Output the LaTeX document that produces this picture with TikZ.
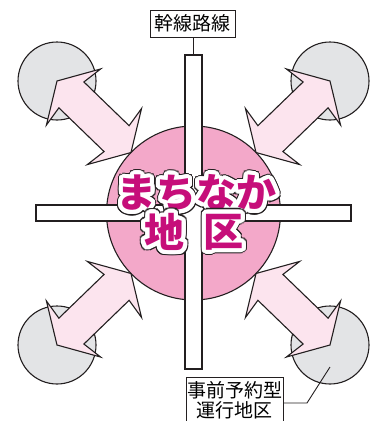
\documentclass[tikz,border=0pt]{standalone}
\usepackage{fontspec}
\usetikzlibrary{calc}
\newfontfamily\jp{Noto Sans CJK JP}
\definecolor{lineC}{RGB}{35,31,32}
\definecolor{grayC}{RGB}{227,228,230}
\definecolor{arrowC}{RGB}{252,228,238}
\definecolor{pinkC}{RGB}{243,168,201}
\definecolor{magC}{RGB}{198,14,122}
\newcommand\blockarrow[2]{%
  \begin{scope}[shift={(#2.center)}, rotate=#1]
    \draw[arrowshape] (0,0) -- (23,39) -- (20,18) -- (82.9,18) -- (79.9,39) -- (102.9,0)
      -- (79.9,-39) -- (82.9,-18) -- (20,-18) -- (23,-39) -- cycle;
  \end{scope}}
\newcommand\halotext[3]{%
  \foreach \a in {0,15,...,345}{\node[bigtxt, text=lineC] (#1d\a) at ($(#2)+(\a:5.3)$) {#3};}
  \foreach \a in {0,15,...,345}{\node[bigtxt, text=white] (#1w\a) at ($(#2)+(\a:4.1)$) {#3};}
  \node[bigtxt, text=magC] (#1) at (#2) {#3};}
\begin{document}
\begin{tikzpicture}[x=1pt,y=-1pt,
  outl/.style={draw=lineC, line width=1.1pt},
  graycirc/.style={outl, fill=grayC, circle, minimum size=78pt, inner sep=0pt},
  arrowshape/.style={outl, fill=arrowC, line join=miter, miter limit=10},
  road/.style={outl, fill=white, rectangle, inner sep=0pt},
  lbl/.style={draw=lineC, line width=0.9pt, fill=white, inner sep=0pt,
    font=\jp\fontsize{19}{20}\selectfont, align=center},
  leader/.style={draw=lineC, line width=0.9pt},
  bigtxt/.style={inner sep=0pt, font=\jp\bfseries\fontsize{40}{40}\selectfont}]
\useasboundingbox (0,0) rectangle (374,421);
% district circles
\node[graycirc] (gTL) at (57,81) {};
\node[graycirc] (gTR) at (330,81) {};
\node[graycirc] (gBL) at (57,345) {};
\node[graycirc] (gBR) at (330,345) {};
% arrows
\blockarrow{-44.04}{gTL}
\blockarrow{224.04}{gTR}
\blockarrow{44.04}{gBL}
\blockarrow{135.96}{gBR}
% town centre
\node[outl, fill=pinkC, circle, minimum size=174pt, inner sep=0pt] (town) at (193.5,213) {};
% trunk roads
\node[road, minimum width=17pt, minimum height=314pt] (vroad) at (193.5,212) {};
\node[road, minimum width=315pt, minimum height=16pt] (hroad) at (193.5,213) {};
\fill[white] (185.6,204) rectangle (201.4,222);
% main title
\coordinate (t1) at (196.5,193);
\coordinate (t2) at (164.5,232);
\coordinate (t3) at (223.5,232);
\halotext{ta}{t1}{まちなか}
\halotext{tb}{t2}{地}
\halotext{tc}{t3}{区}
% labels
\node[lbl, minimum width=85pt, minimum height=27pt] (trunk) at (192.5,23.5) {幹線路線};
\draw[leader] (trunk.south -| vroad.north) -- (vroad.north);
\node[lbl, minimum width=97pt, minimum height=47pt] (demand) at (234.5,400.5) {事前予約型\\運行地区};
\coordinate (bend) at (307,403);
\coordinate (leadEnd) at (330,367);
\draw[leader] (demand.east |- bend) -- (bend) -- (leadEnd);
\end{tikzpicture}
\end{document}
